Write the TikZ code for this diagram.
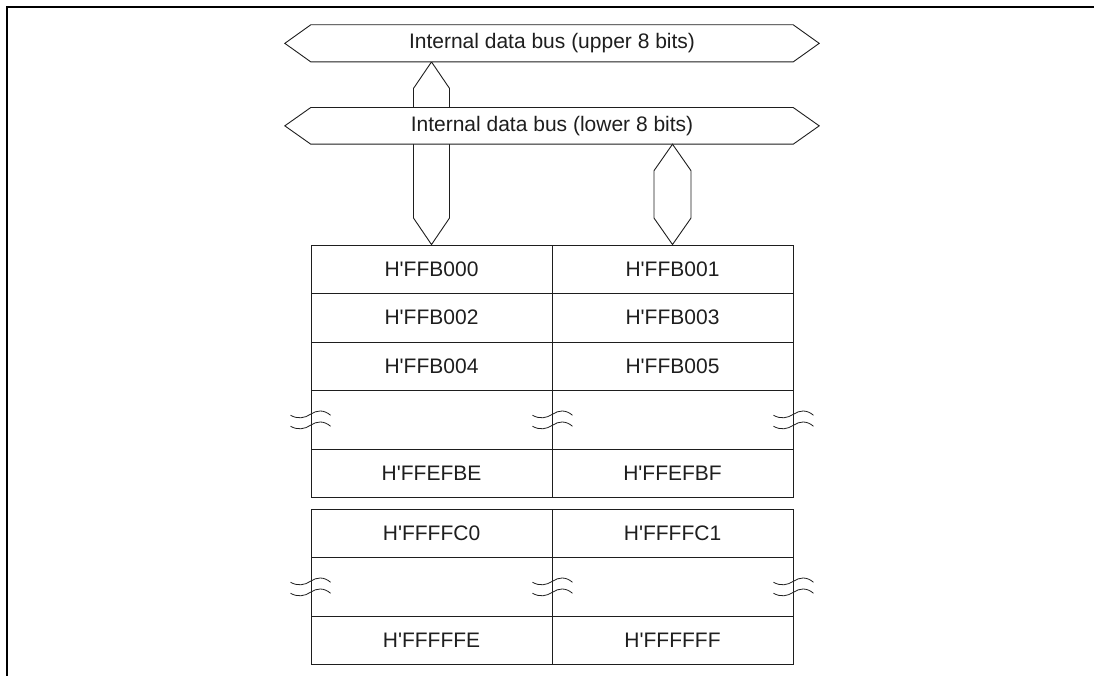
\documentclass[tikz,border=0pt]{standalone}
\usepackage{fontspec}
\setmainfont{Liberation Sans}
\usetikzlibrary{calc}
\definecolor{ink}{HTML}{1E1E1E}
\newcommand{\hq}{H\textquotesingle}
\tikzset{
  every node/.style={font=\fontsize{21}{24}\selectfont, text=ink},
  cellbox/.style={draw=ink, line width=0.9pt, minimum width=241pt, inner sep=0pt, anchor=center},
  busline/.style={draw=ink, line width=0.9pt, fill=white, line join=miter},
  frameline/.style={draw=black, line width=2.2pt},
  wavemark/.pic={\draw[ink, line width=0.8pt] (-20,1) .. controls (-13,5) and (-6,4) .. (0,0) .. controls (6,-4) and (13,-5) .. (20,1);}
}
\begin{document}
\begin{tikzpicture}[x=1pt,y=-1pt]
\useasboundingbox (0,0) rectangle (1094,676);
% frame
\draw[frameline] (7,676) -- (7,7) -- (1094,7);

% bus label nodes (body rectangles, invisible)
\node[minimum width=482pt, minimum height=36.7pt, inner sep=0pt] (ubus) at (552,43.35) {};
\node[minimum width=482pt, minimum height=36.3pt, inner sep=0pt] (lbus) at (552,125.85) {};

% table cells
\node[cellbox, minimum height=48.5pt] (a0) at (431.5,269.25) {\hq FFB000};
\node[cellbox, minimum height=48.5pt] (b0) at (672.5,269.25) {\hq FFB001};
\node[cellbox, minimum height=48.5pt] (a1) at (431.5,317.75) {\hq FFB002};
\node[cellbox, minimum height=48.5pt] (b1) at (672.5,317.75) {\hq FFB003};
\node[cellbox, minimum height=48.5pt] (a2) at (431.5,366.25) {\hq FFB004};
\node[cellbox, minimum height=48.5pt] (b2) at (672.5,366.25) {\hq FFB005};
\node[cellbox, minimum height=58.5pt] (a3) at (431.5,419.75) {};
\node[cellbox, minimum height=58.5pt] (b3) at (672.5,419.75) {};
\node[cellbox, minimum height=48pt] (a4) at (431.5,473) {\hq FFEFBE};
\node[cellbox, minimum height=48pt] (b4) at (672.5,473) {\hq FFEFBF};

\node[cellbox, minimum height=48.5pt] (c0) at (431.5,533.25) {\hq FFFFC0};
\node[cellbox, minimum height=48.5pt] (d0) at (672.5,533.25) {\hq FFFFC1};
\node[cellbox, minimum height=58.5pt] (c1) at (431.5,586.75) {};
\node[cellbox, minimum height=58.5pt] (d1) at (672.5,586.75) {};
\node[cellbox, minimum height=48pt] (c2) at (431.5,640) {\hq FFFFFE};
\node[cellbox, minimum height=48pt] (d2) at (672.5,640) {\hq FFFFFF};

% left vertical bus (upper bus to H'FFB000), passes behind lower bus
\coordinate (lt) at (a0.north |- ubus.south);
\path[busline] (lt) -- ++(18,26.5) -- ($(a0.north)+(18,-26.5)$) -- (a0.north)
  -- ($(a0.north)+(-18,-26.5)$) -- ($(lt)+(-18,26.5)$) -- cycle;

% lower bus
\path[busline] (lbus.north west) -- (lbus.north east) -- ($(lbus.east)+(26,0)$) -- (lbus.south east)
  -- (lbus.south west) -- ($(lbus.west)+(-26,0)$) -- cycle;
\node (lbustext) at (lbus.center) {Internal data bus (lower 8 bits)};

% upper bus
\path[busline] (ubus.north west) -- (ubus.north east) -- ($(ubus.east)+(26,0)$) -- (ubus.south east)
  -- (ubus.south west) -- ($(ubus.west)+(-26,0)$) -- cycle;
\node (ubustext) at (ubus.center) {Internal data bus (upper 8 bits)};

% right vertical bus (lower bus to H'FFB001)
\coordinate (rt) at (b0.north |- lbus.south);
\path[busline] (rt) -- ++(18.5,26.5) -- ($(b0.north)+(18.5,-26.5)$) -- (b0.north)
  -- ($(b0.north)+(-18.5,-26.5)$) -- ($(rt)+(-18.5,26.5)$) -- cycle;

% break marks
\foreach \cx in {a3.west, a3.east, b3.east, c1.west, c1.east, d1.east} {
  \pic at ($(\cx)+(0,-5.5)$) {wavemark};
  \pic at ($(\cx)+(0,5.5)$) {wavemark};
}
\end{tikzpicture}
\end{document}
